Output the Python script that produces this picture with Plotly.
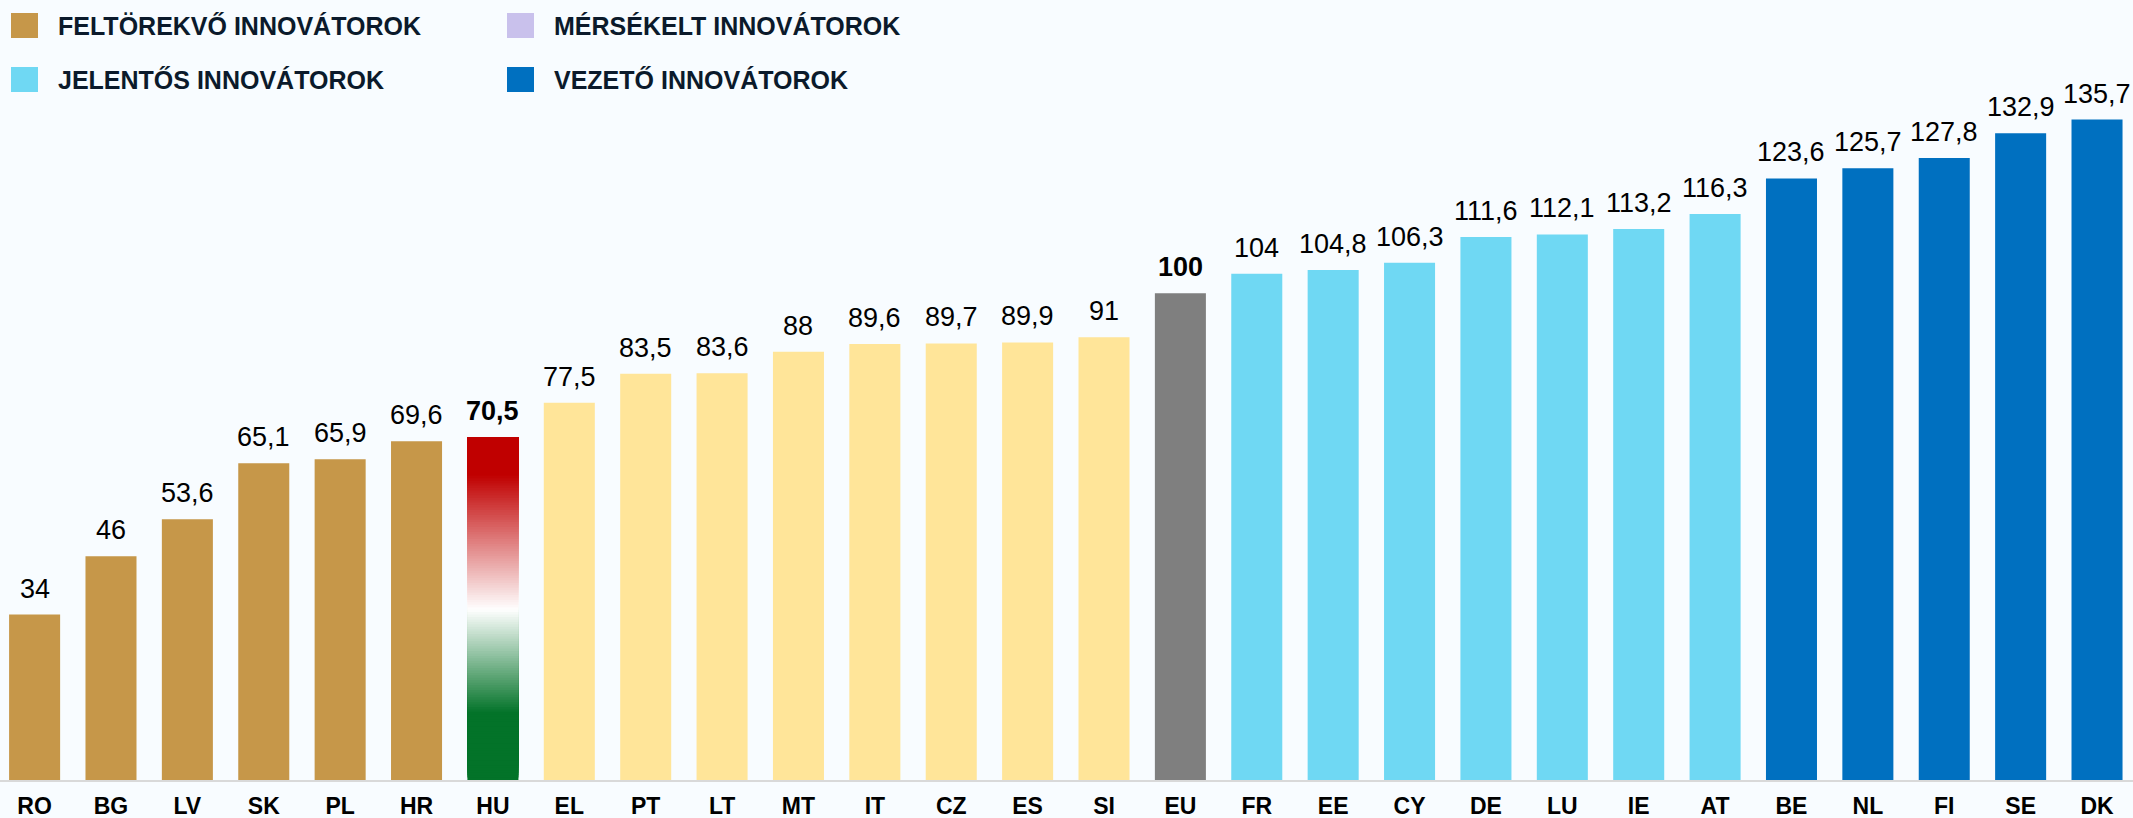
import plotly.graph_objects as go

# country codes, scores (EU = 100) and innovator group
countries = ["RO", "BG", "LV", "SK", "PL", "HR", "HU", "EL", "PT", "LT", "MT", "IT", "CZ", "ES",
             "SI", "EU", "FR", "EE", "CY", "DE", "LU", "IE", "AT", "BE", "NL", "FI", "SE", "DK"]
scores = [34, 46, 53.6, 65.1, 65.9, 69.6, 70.5, 77.5, 83.5, 83.6, 88, 89.6, 89.7, 89.9,
          91, 100, 104, 104.8, 106.3, 111.6, 112.1, 113.2, 116.3, 123.6, 125.7, 127.8, 132.9, 135.7]
groups = ["emerging"] * 6 + ["hu"] + ["moderate"] * 8 + ["eu"] + ["strong"] * 7 + ["leader"] * 5

legend_labels = ["FELTÖREKVŐ INNOVÁTOROK", "MÉRSÉKELT INNOVÁTOROK",
                 "JELENTŐS INNOVÁTOROK", "VEZETŐ INNOVÁTOROK"]
legend_colors = ["#C69749", "#C9C1EC", "#6FD8F3", "#0070C0"]

group_colors = {
    "emerging": "#C69749",
    "hu": "rgba(0,0,0,0)",
    "moderate": "#FFE599",
    "eu": "#7F7F7F",
    "strong": "#6FD8F3",
    "leader": "#0070C0",
}

W, H = 2133, 818
M_T, M_B = 50, 38
BAR_W = 0.668
BG = "#F8FCFF"


def fmt(v):
    return f"{v:g}".replace(".", ",")


def mix(c1, c2, t):
    return "rgb(%d,%d,%d)" % tuple(round(a + (b - a) * t) for a, b in zip(c1, c2))


def hu_color(v):
    # flag gradient: green at the bottom, white in the middle, red on top
    green, white, red = (3, 115, 41), (255, 255, 255), (192, 0, 0)
    if v <= 13.8:
        return mix(green, green, 0)
    if v <= 35:
        return mix(green, white, (v - 13.8) / (35 - 13.8))
    if v <= 62.7:
        return mix(white, red, (v - 35) / (62.7 - 35))
    return mix(red, red, 0)


fig = go.Figure()
fig.add_trace(go.Bar(
    x=countries, y=scores, width=BAR_W,
    marker=dict(color=[group_colors[g] for g in groups], line=dict(width=0)),
    hoverinfo="x+y", showlegend=False,
))

# HU bar: overlapping slices, each reaching the top, so no seams show
hu_value = scores[countries.index("HU")]
step = 0.5
bases, heights, cols = [], [], []
b = 0.0
while b < hu_value:
    bases.append(b)
    heights.append(hu_value - b)
    cols.append(hu_color(b + step / 2))
    b += step
fig.add_trace(go.Bar(
    x=["HU"] * len(bases), y=heights, base=bases, width=BAR_W,
    marker=dict(color=cols, line=dict(width=0)),
    hoverinfo="skip", showlegend=False,
))

for c, v, g in zip(countries, scores, groups):
    bold = g in ("hu", "eu")
    fig.add_annotation(
        x=c, y=v, text=f"<b>{fmt(v)}</b>" if bold else fmt(v),
        showarrow=False, yanchor="bottom", yshift=9,
        font=dict(size=27, color="#000000", family="Liberation Sans, Arial"),
    )

# legend drawn by hand (2 x 2 grid)
plot_h = H - M_T - M_B


def py(p):
    return (H - M_B - p) / plot_h


leg_x = [11, 507, 11, 507]
leg_y = [13, 13, 67, 67]
for lab, col, lx, ly in zip(legend_labels, legend_colors, leg_x, leg_y):
    fig.add_shape(type="rect", xref="paper", yref="paper",
                  x0=lx / W, x1=(lx + 27) / W, y0=py(ly + 25), y1=py(ly),
                  fillcolor=col, line=dict(width=0))
    fig.add_annotation(xref="paper", yref="paper", x=(lx + 45) / W, y=py(ly + 12.5),
                       xanchor="left", yanchor="middle", showarrow=False,
                       text=f"<b>{lab}</b>",
                       font=dict(size=25, color="#0B1A2B", family="Liberation Sans, Arial"))

fig.update_layout(
    width=W, height=H,
    margin=dict(l=0, r=0, t=M_T, b=M_B),
    barmode="overlay",
    paper_bgcolor=BG, plot_bgcolor=BG,
    showlegend=False,
    xaxis=dict(
        type="category", categoryorder="array", categoryarray=countries,
        range=[-0.453, 27.471],
        showline=True, linecolor="#D9D9D9", linewidth=2,
        showgrid=False, ticks="", ticklabelstandoff=4,
        tickfont=dict(size=23, color="#000000", family="Liberation Sans, Arial", weight="bold"),
        automargin=False, fixedrange=True,
    ),
    yaxis=dict(range=[0, 150], visible=False, showgrid=False, zeroline=False, fixedrange=True),
)

# drop the browser's default page margin so the figure fills the window
fig.write_html("out.html", config={"displayModeBar": False},
               post_script="document.body.style.margin='0';"
               "document.body.style.overflow='hidden';")
